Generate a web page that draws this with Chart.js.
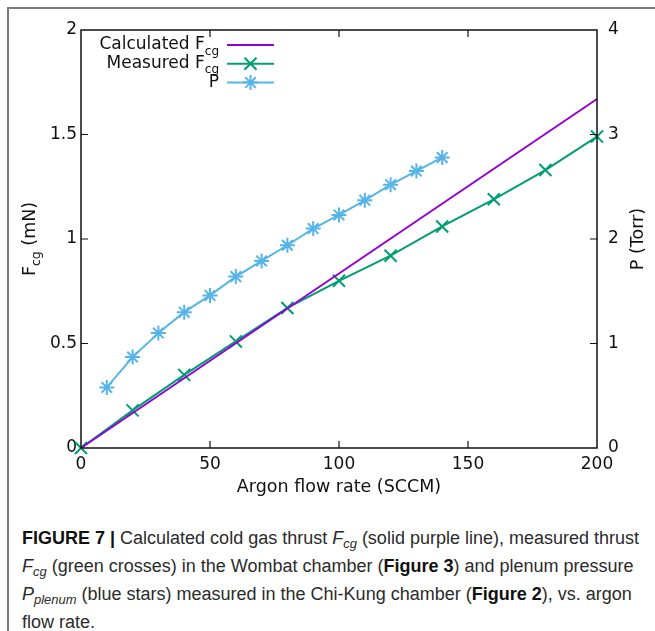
<!DOCTYPE html>
<html>
<head>
<meta charset="utf-8">
<script src="https://cdn.jsdelivr.net/npm/chart.js@4.4.1/dist/chart.umd.min.js"></script>
<style>
  html, body { margin: 0; padding: 0; background: #fff; }
  body { width: 655px; height: 631px; position: relative; overflow: hidden; }
  #c { position: absolute; left: 0; top: 0; }
  .frame-top { position: absolute; left: 7px; top: 7px; width: 660px; height: 2px; background: #7a7a7a; }
  .frame-left { position: absolute; left: 7px; top: 7px; width: 2px; height: 640px; background: #7a7a7a; }
  #caption { position: absolute; left: 22px; top: 524px; font-family: "Liberation Sans", Arial, sans-serif;
    font-size: 18px; line-height: 28px; color: #2b2b2b; white-space: nowrap; }
  #caption b { color: #111; }
  #caption sub { font-size: 0.72em; line-height: 0; vertical-align: -0.3em; }
</style>
</head>
<body>
<canvas id="c" width="655" height="505"></canvas>
<div class="frame-top"></div>
<div class="frame-left"></div>
<div id="caption"><b>FIGURE 7 |</b> Calculated cold gas thrust <i>F<sub>cg</sub></i> (solid purple line), measured thrust<br><i>F<sub>cg</sub></i> (green crosses) in the Wombat chamber (<b>Figure 3</b>) and plenum pressure<br><i>P<sub>plenum</sub></i> (blue stars) measured in the Chi-Kung chamber (<b>Figure 2</b>), vs. argon<br>flow rate.</div>
<script>
// ---- data ----
const flowCalc = [0, 200];
const thrustCalc = [0, 1.67];

const flowMeas = [0, 20, 40, 60, 80, 100, 120, 140, 160, 180, 200];
const thrustMeas = [0, 0.18, 0.35, 0.51, 0.67, 0.80, 0.92, 1.06, 1.19, 1.33, 1.49];

const flowP = [10, 20, 30, 40, 50, 60, 70, 80, 90, 100, 110, 120, 130, 140];
const pressure = [0.58, 0.87, 1.10, 1.30, 1.46, 1.64, 1.79, 1.94, 2.10, 2.23, 2.37, 2.52, 2.65, 2.78];

const xTicks = [0, 50, 100, 150, 200];
const yTicks = [0, 0.5, 1, 1.5, 2];
const y2Ticks = [0, 1, 2, 3, 4];

const legendRows = [
  { main: "Calculated F", sub: "cg" },
  { main: "Measured F", sub: "cg" },
  { main: "P", sub: "" }
];

const PURPLE = "#9400D3", GREEN = "#009E73", BLUE = "#56B4E9";
const FONT = "'DejaVu Sans', sans-serif";

const pts = (xs, ys) => xs.map((x, i) => ({ x: x, y: ys[i] }));

const decor = {
  id: "decor",
  afterDatasetsDraw(chart) {
    const ctx = chart.ctx;
    const a = chart.chartArea;
    const sx = chart.scales.x, sy = chart.scales.y, sy2 = chart.scales.y2;
    ctx.save();
    // border
    ctx.strokeStyle = "#111";
    ctx.lineWidth = 1.5;
    ctx.strokeRect(a.left, a.top, a.right - a.left, a.bottom - a.top);
    // inward ticks
    const TL = 7;
    ctx.lineWidth = 1.2;
    ctx.beginPath();
    xTicks.slice(1, -1).forEach(v => {
      const px = sx.getPixelForValue(v);
      ctx.moveTo(px, a.bottom); ctx.lineTo(px, a.bottom - TL);
      ctx.moveTo(px, a.top); ctx.lineTo(px, a.top + TL);
    });
    yTicks.slice(1, -1).forEach(v => {
      const py = sy.getPixelForValue(v);
      ctx.moveTo(a.left, py); ctx.lineTo(a.left + TL, py);
    });
    y2Ticks.slice(1, -1).forEach(v => {
      const py = sy2.getPixelForValue(v);
      ctx.moveTo(a.right, py); ctx.lineTo(a.right - TL, py);
    });
    ctx.stroke();

    // text helper with subscript and optional trailing text
    function subText(main, sub, tail, x, y, align, size, subSize) {
      ctx.font = size + "px " + FONT;
      const wm = ctx.measureText(main).width;
      const wt = tail ? ctx.measureText(tail).width : 0;
      ctx.font = subSize + "px " + FONT;
      const ws = sub ? ctx.measureText(sub).width : 0;
      const total = wm + ws + wt;
      let start;
      if (align === "right") start = x - total;
      else if (align === "center") start = x - total / 2;
      else start = x;
      ctx.textAlign = "left";
      ctx.textBaseline = "middle";
      ctx.font = size + "px " + FONT;
      ctx.fillText(main, start, y);
      if (sub) {
        ctx.font = subSize + "px " + FONT;
        ctx.fillText(sub, start + wm, y + size * 0.38);
      }
      if (tail) {
        ctx.font = size + "px " + FONT;
        ctx.fillText(tail, start + wm + ws, y);
      }
    }
    ctx.fillStyle = "#111";

    // legend
    const ds = chart.data.datasets;
    legendRows.forEach((r, i) => {
      const y = 45 + i * 18.8;
      ctx.fillStyle = "#111";
      subText(r.main, r.sub, "", 219, y, "right", 17, 12);
      const d = ds[i];
      ctx.strokeStyle = d.borderColor;
      ctx.lineWidth = 2;
      ctx.beginPath(); ctx.moveTo(227, y); ctx.lineTo(274, y); ctx.stroke();
      if (d.pointRadius > 0) {
        Chart.helpers.drawPoint(ctx, { pointStyle: d.pointStyle, radius: d.pointRadius, borderWidth: d.pointBorderWidth, rotation: 0 }, 250.5, y);
      }
    });
    ctx.fillStyle = "#111";

    // axis titles
    subText("Argon flow rate (SCCM)", "", "", (a.left + a.right) / 2, 487, "center", 17.5, 12);
    ctx.save();
    ctx.translate(30, (a.top + a.bottom) / 2);
    ctx.rotate(-Math.PI / 2);
    subText("F", "cg", " (mN)", 0, 0, "center", 17.5, 12.5);
    ctx.restore();
    ctx.save();
    ctx.translate(638, (a.top + a.bottom) / 2);
    ctx.rotate(-Math.PI / 2);
    subText("P (Torr)", "", "", 0, 0, "center", 17.5, 12);
    ctx.restore();
    ctx.restore();
  }
};

const tickFmt = v => String(v);

new Chart(document.getElementById("c"), {
  type: "scatter",
  data: {
    datasets: [
      { label: "Calculated Fcg", data: pts(flowCalc, thrustCalc), yAxisID: "y", showLine: true,
        borderColor: PURPLE, backgroundColor: PURPLE, borderWidth: 2, pointRadius: 0, pointHoverRadius: 0, clip: false },
      { label: "Measured Fcg", data: pts(flowMeas, thrustMeas), yAxisID: "y", showLine: true,
        borderColor: GREEN, backgroundColor: GREEN, borderWidth: 2, pointStyle: "crossRot", pointRadius: 8.5,
        pointBorderWidth: 2, pointBorderColor: GREEN, clip: false },
      { label: "P", data: pts(flowP, pressure), yAxisID: "y2", showLine: true,
        borderColor: BLUE, backgroundColor: BLUE, borderWidth: 2, pointStyle: "star", pointRadius: 7.5,
        pointBorderWidth: 2, pointBorderColor: BLUE, clip: false }
    ]
  },
  options: {
    responsive: false,
    animation: false,
    devicePixelRatio: 1,
    layout: { padding: { left: 0, right: 0, top: 30, bottom: 0 } },
    plugins: { legend: { display: false }, tooltip: { enabled: false } },
    scales: {
      x: {
        type: "linear", min: 0, max: 200,
        grid: { display: false, drawTicks: false }, border: { display: false },
        afterBuildTicks: s => { s.ticks = xTicks.map(v => ({ value: v })); },
        ticks: { font: { family: FONT, size: 17 }, color: "#111", padding: 6, maxRotation: 0, callback: tickFmt },
        afterFit: s => { s.height = 57; }
      },
      y: {
        type: "linear", position: "left", min: 0, max: 2,
        grid: { display: false, drawTicks: false }, border: { display: false },
        afterBuildTicks: s => { s.ticks = yTicks.map(v => ({ value: v })); },
        ticks: { font: { family: FONT, size: 17 }, color: "#111", padding: 4, callback: tickFmt },
        afterFit: s => { s.width = 81; }
      },
      y2: {
        type: "linear", position: "right", min: 0, max: 4,
        grid: { display: false, drawTicks: false }, border: { display: false },
        afterBuildTicks: s => { s.ticks = y2Ticks.map(v => ({ value: v })); },
        ticks: { font: { family: FONT, size: 17 }, color: "#111", padding: 11, callback: tickFmt },
        afterFit: s => { s.width = 58; }
      }
    }
  },
  plugins: [decor]
});
</script>
</body>
</html>
